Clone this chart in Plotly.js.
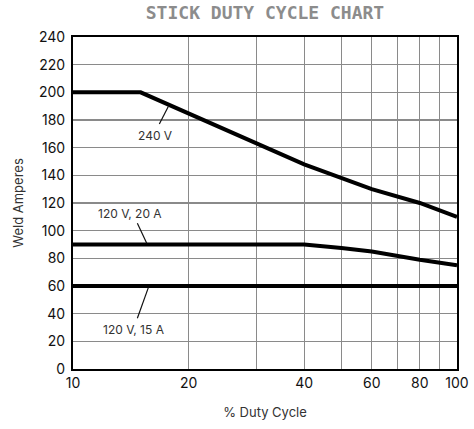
<!DOCTYPE html>
<html>
<head>
<meta charset="utf-8">
<script src="https://cdn.plot.ly/plotly-3.0.1.min.js"></script>
<style>html,body{margin:0;padding:0;background:#fff;}#chart{width:474px;height:429px;}</style>
</head>
<body>
<div id="chart"></div>
<script>
// Data
const dutyCycle240 = [10, 15, 40, 60, 80, 100];
const amps240 = [200, 200, 148, 130, 120, 110];
const dutyCycle20A = [10, 40, 50, 60, 80, 100];
const amps20A = [90, 90, 87.5, 85, 79, 75];
const dutyCycle15A = [10, 100];
const amps15A = [60, 60];

const xTickVals = [10, 20, 30, 40, 50, 60, 70, 80, 90, 100];
const xTickText = ['10', '20', '', '40', '', '60', '', '80', '', '100'];
const yTickVals = [0, 20, 40, 60, 80, 100, 120, 140, 160, 180, 200, 220, 240];

// Labels and their leader lines
const labelNames = ['240 V', '120 V, 20 A', '120 V, 15 A'];
const labelX = [16.35, 14.07, 14.41];
const labelY = [168.5, 112.1, 28.7];
const leaderX0 = [16.78, 14.71, 14.71];
const leaderY0 = [177.1, 105.4, 36.7];
const leaderX1 = [17.71, 15.56, 15.71];
const leaderY1 = [189.7, 90.9, 58.8];

const lineStyle = {color: '#000', width: 4};
const traces = [
  {x: dutyCycle240, y: amps240, mode: 'lines', line: lineStyle, hoverinfo: 'skip'},
  {x: dutyCycle20A, y: amps20A, mode: 'lines', line: lineStyle, hoverinfo: 'skip'},
  {x: dutyCycle15A, y: amps15A, mode: 'lines', line: lineStyle, hoverinfo: 'skip'}
];
labelNames.forEach((n, i) => {
  traces.push({x: [leaderX0[i], leaderX1[i]], y: [leaderY0[i], leaderY1[i]], mode: 'lines',
    line: {color: '#111', width: 1.2}, hoverinfo: 'skip'});
});

const annotations = labelNames.map((n, i) => ({
  x: Math.log10(labelX[i]), y: labelY[i], xref: 'x', yref: 'y', text: n, showarrow: false,
  font: {family: 'Inter, Roboto, sans-serif', size: 12, color: '#333'}
}));

const layout = {
  width: 474, height: 429,
  margin: {l: 73, r: 17, t: 37, b: 60},
  paper_bgcolor: '#fff', plot_bgcolor: '#fff',
  showlegend: false,
  title: {text: '<b>STICK DUTY CYCLE CHART</b>', x: 0.5, xref: 'paper', xanchor: 'center',
    y: 0.97, yref: 'container', yanchor: 'middle',
    font: {family: '"DejaVu Sans Mono", monospace', size: 18, color: '#8c8c8c'}},
  xaxis: {type: 'log', range: [1, 2], tickvals: xTickVals, ticktext: xTickText,
    showgrid: true, gridcolor: '#8a8a8a', gridwidth: 1.2, zeroline: false,
    showline: true, linecolor: '#000', linewidth: 2, mirror: true, ticks: '',
    tickfont: {family: 'Inter, sans-serif', size: 14, color: '#111'},
    title: {text: '% Duty Cycle', standoff: 18, font: {family: 'Inter, sans-serif', size: 13, color: '#333'}}},
  yaxis: {range: [0, 240], tickvals: yTickVals,
    showgrid: true, gridcolor: '#8a8a8a', gridwidth: 1.2, zeroline: false,
    showline: true, linecolor: '#000', linewidth: 2, mirror: true, ticks: '',
    ticklabelstandoff: 3,
    tickfont: {family: 'Inter, sans-serif', size: 14, color: '#111'},
    title: {text: 'Weld Amperes', standoff: 12, font: {family: 'Inter, sans-serif', size: 13, color: '#333'}}},
  annotations: annotations
};

Plotly.newPlot('chart', traces, layout, {displayModeBar: false, staticPlot: true});
</script>
</body>
</html>
